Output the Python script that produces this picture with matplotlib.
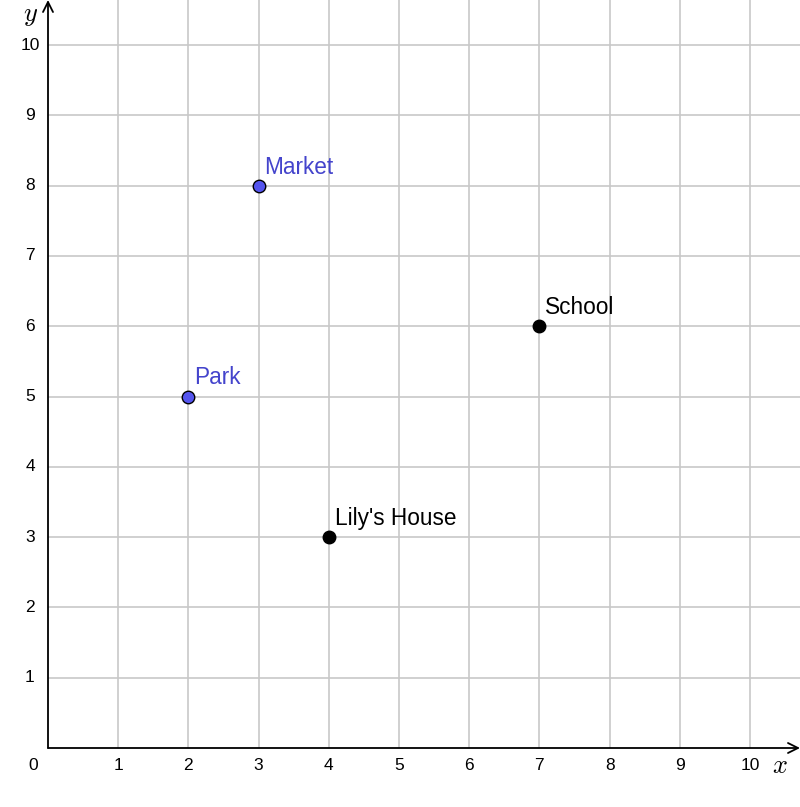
import matplotlib
matplotlib.use("Agg")
import matplotlib.pyplot as plt

plt.rcParams['font.family'] = ['Liberation Sans', 'DejaVu Sans']
plt.rcParams['mathtext.fontset'] = 'cm'

names = ["Market", "Park", "School", "Lily's House"]
xs = [3, 2, 7, 4]
ys = [8, 5, 6, 3]
colors = ["#5555ee", "#5555ee", "#000000", "#000000"]
text_colors = ["#4444cc", "#4444cc", "#000000", "#000000"]
ticks = list(range(1, 11))

W, H = 800, 807
fig = plt.figure(figsize=(W / 100, H / 100), dpi=100)
x0, y0 = 48, 748
ax = fig.add_axes([x0 / W, (H - y0) / H, (W - x0) / W, y0 / H])
sx = 70.2
sy = 70.3
ax.set_xlim(0, (W - x0) / sx)
ax.set_ylim(0, y0 / sy)
for s in ax.spines.values():
    s.set_visible(False)
ax.set_xticks([])
ax.set_yticks([])
ax.patch.set_alpha(0)

for t in ticks:
    ax.axvline(t, color="#c8c8c8", lw=1.2, zorder=0)
    ax.axhline(t, color="#c8c8c8", lw=1.2, zorder=0)

# axes arrows
ax.annotate("", xy=(1.0, 0), xycoords="axes fraction", xytext=(0, 0),
            arrowprops=dict(arrowstyle="->", color="black", lw=1.3,
                            shrinkA=0, shrinkB=0, mutation_scale=18), annotation_clip=False)
ax.annotate("", xy=(0, 1.0), xycoords="axes fraction", xytext=(0, 0),
            arrowprops=dict(arrowstyle="->", color="black", lw=1.3,
                            shrinkA=0, shrinkB=0, mutation_scale=18), annotation_clip=False)

for t in ticks:
    ax.annotate(str(t), xy=(t, 0), xytext=(0, -18), textcoords="offset pixels",
                ha="center", va="center", fontsize=12.5, annotation_clip=False)
    ax.annotate(str(t), xy=(0, t), xytext=(-18, 0), textcoords="offset pixels",
                ha="center", va="center", fontsize=12.5, annotation_clip=False)
ax.annotate("0", xy=(0, 0), xytext=(-15, -18), textcoords="offset pixels",
            ha="center", va="center", fontsize=12.5, annotation_clip=False)

fig.text(780 / W, 1 - 766 / H, "$x$", fontsize=19, ha="center", va="center")
fig.text(31 / W, 1 - 16 / H, "$y$", fontsize=19, ha="center", va="center")

for n, x, y, c, tc in zip(names, xs, ys, colors, text_colors):
    ax.plot([x], [y], "o", ms=9, mfc=c, mec="black", mew=1.0, zorder=5, clip_on=False)
    ax.annotate(n, xy=(x, y), xytext=(6, 7), textcoords="offset pixels",
                ha="left", va="bottom", fontsize=16.3, color=tc)

fig.savefig("out.png", dpi=100)
